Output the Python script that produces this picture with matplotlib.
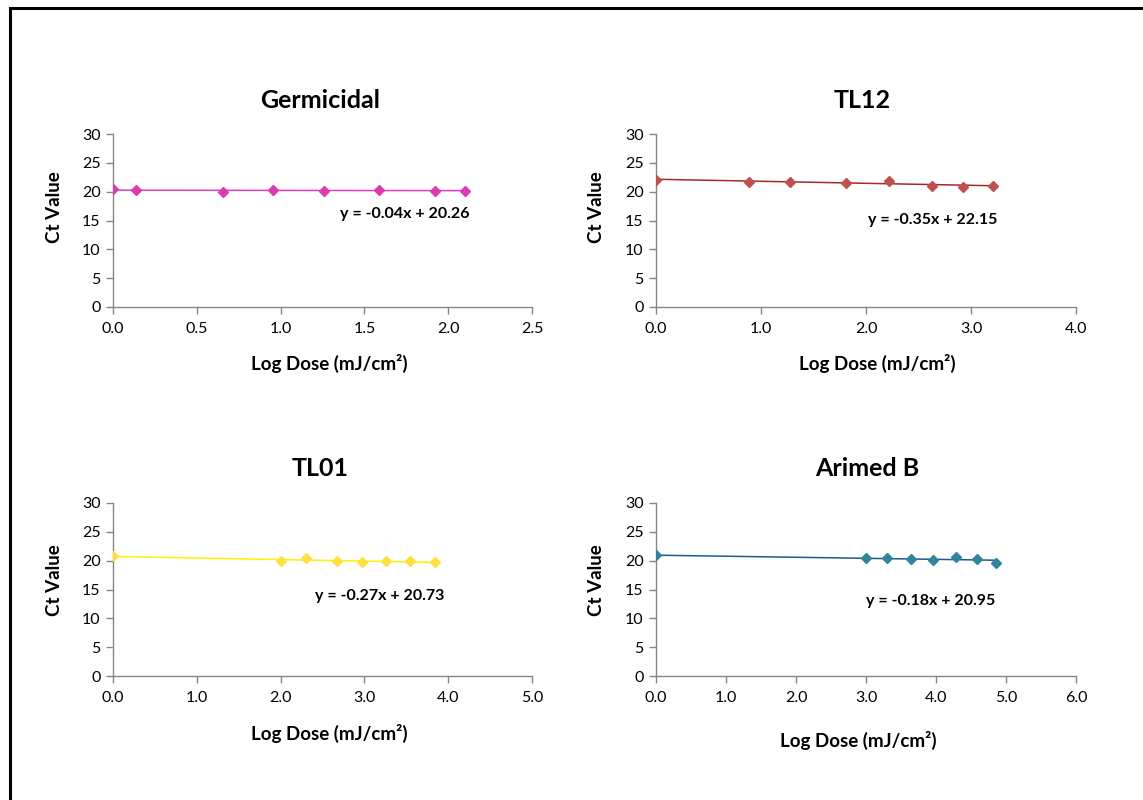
import matplotlib.pyplot as plt
from matplotlib.patches import Rectangle

plt.rcParams['font.family'] = ['Lato', 'DejaVu Sans']

# log dose (mJ/cm2) and Ct values for each lamp
germ_x = [0.0, 0.135, 0.658, 0.956, 1.26, 1.59, 1.92, 2.10]
germ_y = [20.4, 20.3, 20.0, 20.35, 20.15, 20.35, 20.15, 20.15]
tl12_x = [0.0, 0.89, 1.28, 1.81, 2.22, 2.63, 2.92, 3.21]
tl12_y = [22.1, 21.75, 21.75, 21.5, 21.85, 21.05, 20.8, 20.95]
tl01_x = [0.0, 2.0, 2.3, 2.67, 2.97, 3.26, 3.54, 3.84]
tl01_y = [20.8, 19.95, 20.4, 20.0, 19.7, 19.95, 19.95, 19.7]
arim_x = [0.0, 3.0, 3.3, 3.64, 3.96, 4.28, 4.58, 4.86]
arim_y = [20.9, 20.45, 20.45, 20.35, 20.05, 20.6, 20.3, 19.6]

# trendline slope / intercept as printed
fits = [(-0.04, 20.26), (-0.35, 22.15), (-0.27, 20.73), (-0.18, 20.95)]

titles = ['Germicidal', 'TL12', 'TL01', 'Arimed B']
xmaxes = [2.5, 4.0, 5.0, 6.0]
xsteps = [0.5, 1.0, 1.0, 1.0]

W, H = 1143, 800
fig = plt.figure(figsize=(W / 100, H / 100), dpi=100)

def px_axes(l, r, b, t):
    return fig.add_axes([l / W, 1 - b / H, (r - l) / W, (b - t) / H])

panels = [
    dict(box=(113, 532, 307, 134), x=germ_x, y=germ_y, mc='#DA3BAF', lc='#E040B5',
         eq=(470, 214), xl=(329, 363), yl=(55, 207), tt=(320, 100)),
    dict(box=(656, 1076, 307, 134), x=tl12_x, y=tl12_y, mc='#C0504D', lc='#A52A2A',
         eq=(997, 220), xl=(877, 363), yl=(597, 207), tt=(862, 100)),
    dict(box=(113, 532, 676, 503), x=tl01_x, y=tl01_y, mc='#FFE040', lc='#FFF200',
         eq=(444, 596), xl=(329, 733), yl=(55, 580), tt=(320, 468)),
    dict(box=(656, 1076, 676, 503), x=arim_x, y=arim_y, mc='#31849B', lc='#1F5A8C',
         eq=(995, 601), xl=(858, 740), yl=(597, 580), tt=(867, 468)),
]

gray = '#868686'
for p, title, xmax, step, (m, c) in zip(panels, titles, xmaxes, xsteps, fits):
    ax = px_axes(*p['box'])
    xs = p['x']
    ax.plot([0, max(xs)], [c, c + m * max(xs)], color=p['lc'], lw=1.1, zorder=2)
    ax.plot(xs, p['y'], linestyle='none', marker='D', ms=5.5, color=p['mc'], zorder=3)
    ax.set_xlim(0, xmax)
    ax.set_ylim(0, 30)
    nt = int(round(xmax / step))
    xt = [i * step for i in range(nt + 1)]
    ax.set_xticks(xt)
    ax.set_xticklabels([f'{v:.1f}' for v in xt])
    ax.set_yticks(range(0, 31, 5))
    for s in ['top', 'right']:
        ax.spines[s].set_visible(False)
    for s in ['left', 'bottom']:
        ax.spines[s].set_color(gray)
        ax.spines[s].set_linewidth(1.0)
    ax.tick_params(colors=gray, labelcolor='black', labelsize=11.5, length=5, width=1)
    ax.tick_params(axis='x', pad=6)
    ax.tick_params(axis='y', pad=4)

    fig.text(p['tt'][0] / W, 1 - p['tt'][1] / H, title, ha='center', va='center',
             fontsize=18, fontweight='bold')
    fig.text(p['xl'][0] / W, 1 - p['xl'][1] / H, 'Log Dose (mJ/cm²)', ha='center',
             va='center', fontsize=13.5, fontweight='bold')
    fig.text(p['yl'][0] / W, 1 - p['yl'][1] / H, 'Ct Value', ha='center', va='center',
             rotation=90, fontsize=13.5, fontweight='bold')
    fig.text(p['eq'][0] / W, 1 - p['eq'][1] / H, f'y = {m:.2f}x + {c:.2f}', ha='right',
             va='center', fontsize=11.5, fontweight='bold')

# outer frame around the chart area
fig.patches.append(Rectangle((10 / W, -0.05), 1.2, 1 - 8 / H + 0.05, transform=fig.transFigure,
                             fill=False, edgecolor='black', lw=2.2))

fig.savefig('out.png', dpi=100)
